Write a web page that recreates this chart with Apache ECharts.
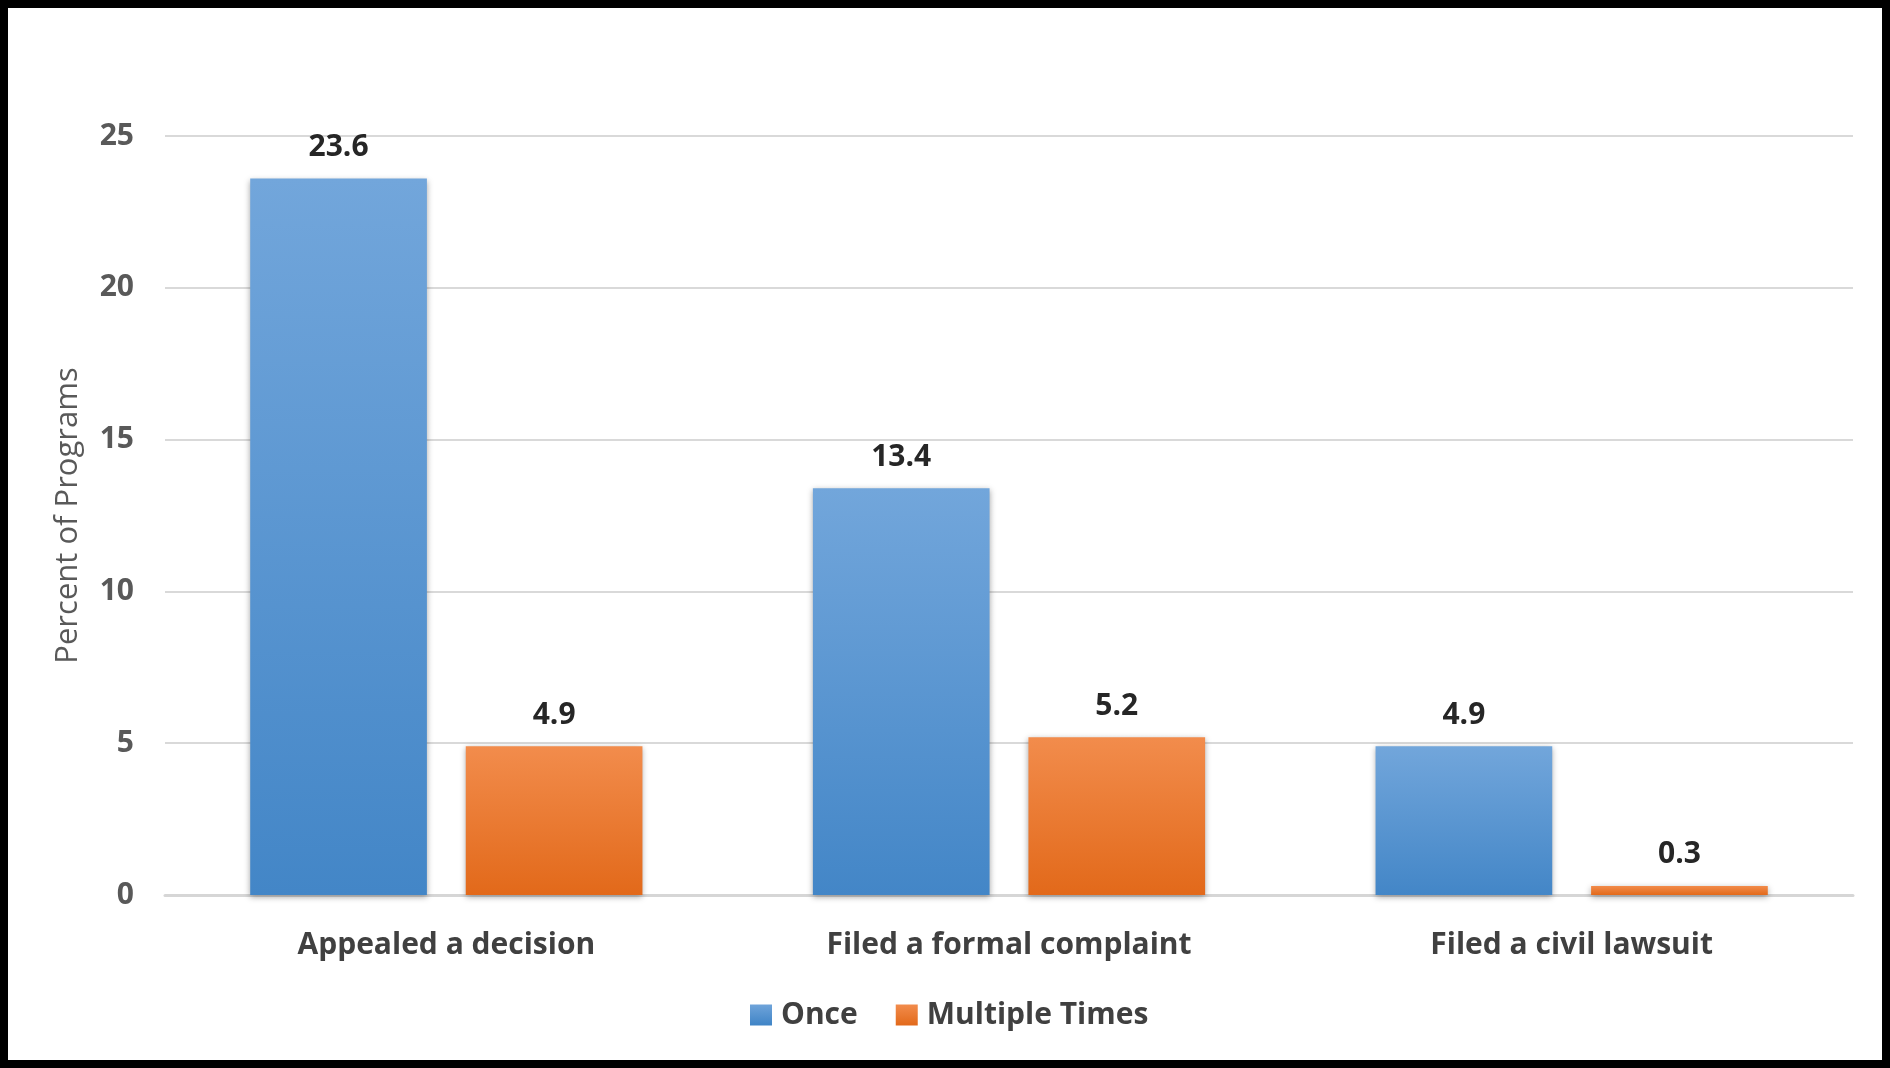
<!DOCTYPE html>
<html>
<head>
<meta charset="utf-8">
<script src="https://cdn.jsdelivr.net/npm/echarts@6/dist/echarts.min.js"></script>
<style>
html,body{margin:0;padding:0;background:#fff;}
#chart{position:absolute;left:0;top:0;width:1890px;height:1068px;}
#frame{position:absolute;left:0;top:0;width:1890px;height:1068px;box-sizing:border-box;border:8px solid #000;pointer-events:none;}
</style>
</head>
<body>
<div id="chart"></div>
<div id="frame"></div>
<script>
const categories = ['Appealed a decision', 'Filed a formal complaint', 'Filed a civil lawsuit'];
const onceValues = [23.6, 13.4, 4.9];
const multipleValues = [4.9, 5.2, 0.3];
const yTicks = [0, 5, 10, 15, 20, 25];

const FONT = '"Open Sans", "Noto Sans", sans-serif';
function grad(top, bottom) {
  return new echarts.graphic.LinearGradient(0, 0, 0, 1, [
    {offset: 0, color: top}, {offset: 1, color: bottom}
  ]);
}
const labelStyle = {
  show: true, position: 'top', distance: 16,
  fontFamily: FONT, fontWeight: 'bold', fontSize: 30, color: '#262626',
  formatter: p => p.value.toFixed(1)
};
const chart = echarts.init(document.getElementById('chart'));
chart.setOption({
  animation: false,
  backgroundColor: '#fff',
  grid: {left: 165, right: 37, top: 136, bottom: 173, containLabel: false},
  legend: {
    left: 745, top: 995, itemWidth: 22, itemHeight: 21, itemGap: 38,
    textStyle: {fontFamily: FONT, fontWeight: 'bold', fontSize: 30, color: '#404040', padding: [0,0,0,4]},
    data: [
      {name: 'Once', icon: 'rect', itemStyle: {color: grad('#6fa4da', '#3f84c6')}},
      {name: 'Multiple Times', icon: 'rect', itemStyle: {color: grad('#f28c4c', '#e2691a')}}
    ]
  },
  xAxis: {
    type: 'category', data: categories,
    axisLine: {lineStyle: {color: '#d6d6d6', width: 3}},
    axisTick: {show: false},
    axisLabel: {margin: 35, fontFamily: FONT, fontWeight: 'bold', fontSize: 30, color: '#404040'}
  },
  yAxis: {
    type: 'value', min: yTicks[0], max: yTicks[yTicks.length - 1], interval: 5,
    name: 'Percent of Programs', nameLocation: 'middle', nameRotate: 90, nameGap: 81,
    nameTextStyle: {fontFamily: FONT, fontSize: 31, color: '#595959'},
    axisLine: {show: false}, axisTick: {show: false},
    axisLabel: {margin: 31, fontFamily: FONT, fontWeight: 'bold', fontSize: 30, color: '#595959'},
    splitLine: {lineStyle: {color: '#d9d9d9', width: 2}}
  },
  series: [
    {
      name: 'Once', type: 'bar', data: onceValues, barWidth: '31.4%', barGap: '22%',
      itemStyle: {color: grad('#72a6db', '#4386c7'), shadowBlur: 6, shadowColor: 'rgba(0,0,0,0.35)', shadowOffsetY: 2},
      label: labelStyle
    },
    {
      name: 'Multiple Times', type: 'bar', data: multipleValues, barWidth: '31.4%',
      itemStyle: {color: grad('#f28c4c', '#e2691a'), shadowBlur: 6, shadowColor: 'rgba(0,0,0,0.35)', shadowOffsetY: 2},
      label: labelStyle
    }
  ]
});
</script>
</body>
</html>
